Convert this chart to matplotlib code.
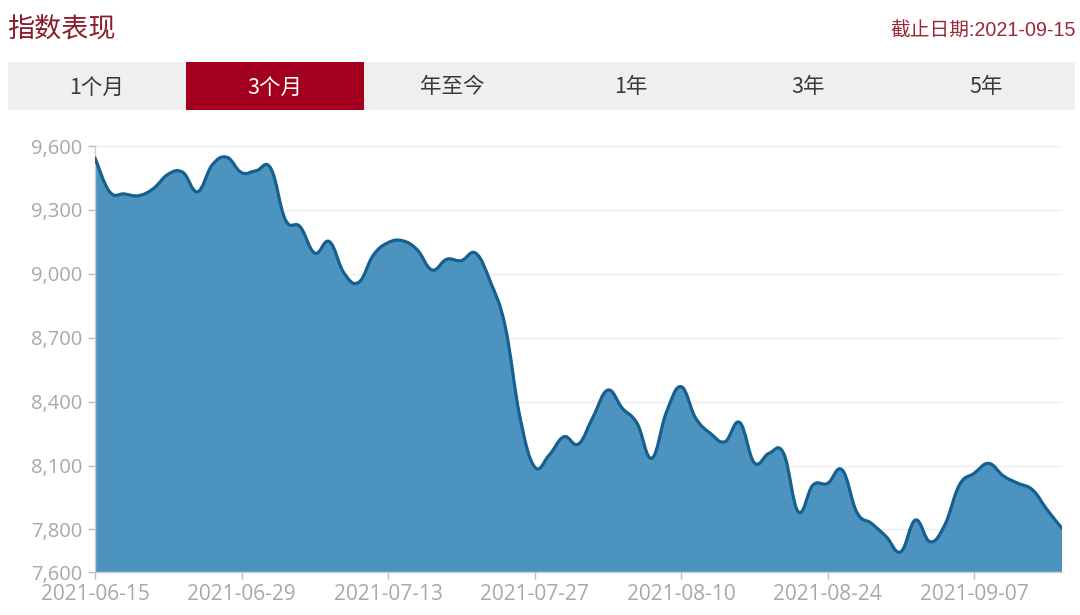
import numpy as np
import pandas as pd
import matplotlib
matplotlib.use('Agg')
import matplotlib.pyplot as plt
from matplotlib.path import Path
from matplotlib.patches import PathPatch, Rectangle

plt.rcParams['font.family'] = ['Open Sans', 'Noto Sans CJK SC', 'DejaVu Sans']

# trading days 2021-06-15 .. 2021-09-15
dates = pd.bdate_range('2021-06-15', '2021-09-15').strftime('%Y-%m-%d').tolist()

# index level, one value per trading day
values = [
    9544, 9385, 9375, 9367, 9401, 9468, 9476, 9385, 9511, 9547,
    9475, 9484, 9495, 9253, 9221, 9097, 9151, 9003, 8960, 9088,
    9146, 9155, 9112, 9018, 9068, 9062, 9096, 8960, 8752, 8329,
    8094, 8149, 8235, 8201, 8329, 8454, 8368, 8298, 8134, 8350,
    8470, 8322, 8251, 8212, 8302, 8113, 8157, 8157, 7883, 8008,
    8016, 8079, 7880, 7828, 7766, 7695, 7844, 7742, 7821, 8009,
    8063, 8110, 8051, 8016, 7985, 7891, 7805,
]

tabs = ['1个月', '3个月', '年至今', '1年', '3年', '5年']
active_tab = 1
yticks = [7600, 7800, 8100, 8400, 8700, 9000, 9300, 9600]
xtick_idx = [0, 10, 20, 30, 40, 50, 60]

RED = '#a3001f'
FILL = '#4d93bf'
LINE = '#15608f'
GREY_TXT = '#a8a8a8'

fig = plt.figure(figsize=(10.8, 6.15), dpi=100)
fig.patch.set_facecolor('white')

# header texts
fig.text(7 / 1080, 1 - 30 / 615, '指数表现', fontsize=19.5, color='#8c1c2e',
         family=['Noto Sans CJK SC'], va='center', ha='left')
fig.text(1076 / 1080, 1 - 31 / 615, '截止日期:2021-09-15', fontsize=14.2, color='#9a2a38',
         family=['Liberation Sans', 'Noto Sans CJK SC'], va='center', ha='right')

# tab bar
tab_ax = fig.add_axes([8 / 1080, 1 - 110 / 615, 1067 / 1080, 48 / 615])
tab_ax.set_xlim(0, len(tabs))
tab_ax.set_ylim(0, 1)
tab_ax.set_axis_off()
tab_ax.add_patch(Rectangle((0, 0), len(tabs), 1, color='#efefef', lw=0))
for i, t in enumerate(tabs):
    if i == active_tab:
        tab_ax.add_patch(Rectangle((i, 0), 1, 1, color=RED, lw=0))
    tab_ax.text(i + 0.5, 0.47, t, ha='center', va='center', fontsize=15.5,
                color='white' if i == active_tab else '#3a3a3a',
                family=['Noto Sans CJK SC'])

# chart
ax = fig.add_axes([95 / 1080, 1 - 572 / 615, 967 / 1080, 426 / 615])
x = np.arange(len(values))
y = np.array(values, dtype=float)

# smooth bezier through the points (echarts-like)
s = 0.2
verts = [(x[0], y[0])]
codes = [Path.MOVETO]
for i in range(len(x) - 1):
    p0 = np.array([x[max(i - 1, 0)], y[max(i - 1, 0)]])
    p1 = np.array([x[i], y[i]])
    p2 = np.array([x[i + 1], y[i + 1]])
    p3 = np.array([x[min(i + 2, len(x) - 1)], y[min(i + 2, len(x) - 1)]])
    c1 = p1 + (p2 - p0) * s
    c2 = p2 - (p3 - p1) * s
    verts += [tuple(c1), tuple(c2), tuple(p2)]
    codes += [Path.CURVE4] * 3

line_path = Path(verts, codes)
fill_verts = [(x[0], yticks[0])] + verts + [(x[-1], yticks[0]), (x[0], yticks[0])]
fill_codes = [Path.MOVETO, Path.LINETO] + codes[1:] + [Path.LINETO, Path.CLOSEPOLY]
ax.add_patch(PathPatch(Path(fill_verts, fill_codes), facecolor=FILL, edgecolor='none', zorder=2))
ax.add_patch(PathPatch(line_path, facecolor='none', edgecolor=LINE, lw=2.3, zorder=3,
                       capstyle='round', joinstyle='round'))

ax.set_xlim(0, len(values) - 1)
ax.set_ylim(yticks[0], yticks[-1])
ax.set_yticks(yticks)
ax.set_yticklabels([f'{v:,}' for v in yticks])
ax.set_xticks(xtick_idx)
ax.set_xticklabels([dates[i] for i in xtick_idx])
ax.grid(axis='y', color='#eeeeee', lw=1, zorder=0)
ax.set_axisbelow(True)
for side in ['top', 'right']:
    ax.spines[side].set_visible(False)
for side in ['left', 'bottom']:
    ax.spines[side].set_color('#cccccc')
    ax.spines[side].set_linewidth(1)
ax.tick_params(axis='both', colors='#bbbbbb', labelcolor=GREY_TXT, length=5, width=1)
ax.tick_params(axis='y', pad=4, labelsize=14.5)
ax.tick_params(axis='x', pad=4, labelsize=15)

fig.savefig('out.png', dpi=100, facecolor='white')
